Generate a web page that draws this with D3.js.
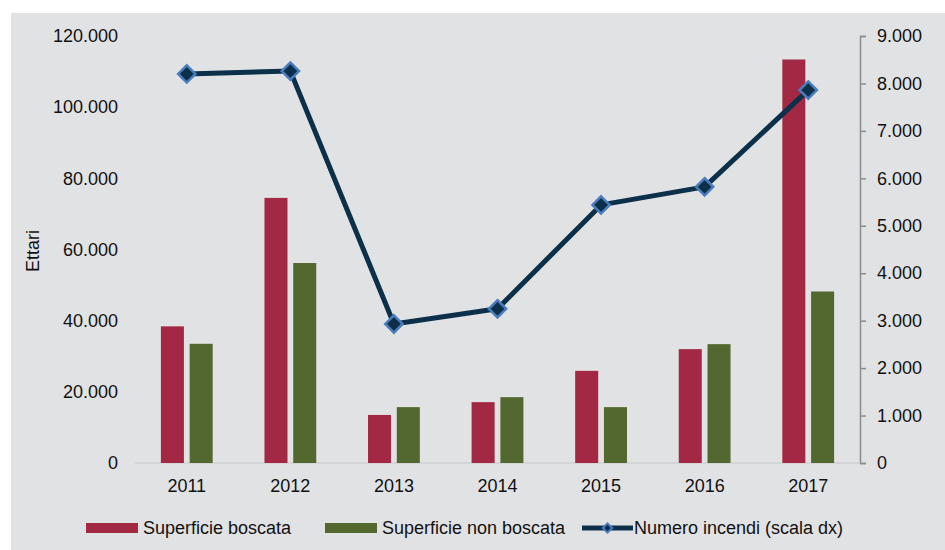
<!DOCTYPE html>
<html>
<head>
<meta charset="utf-8">
<script src="https://cdn.jsdelivr.net/npm/d3@7"></script>
<style>
  body { margin: 0; background: #fff; }
  svg { display: block; font-family: "Liberation Sans", Arial, sans-serif; }
</style>
</head>
<body>
<svg id="chart" width="945" height="550"></svg>
<script>
const years = ['2011', '2012', '2013', '2014', '2015', '2016', '2017'];
const boscata = [38400, 74500, 13500, 17100, 25900, 32000, 113400];
const nonBoscata = [33500, 56200, 15700, 18500, 15700, 33400, 48200];
const incendi = [8200, 8260, 2930, 3250, 5440, 5820, 7860];
const leftTicks = [0, 20000, 40000, 60000, 80000, 100000, 120000];
const rightTicks = [0, 1000, 2000, 3000, 4000, 5000, 6000, 7000, 8000, 9000];

const colors = { boscata: '#a32843', nonBoscata: '#52682e', line: '#0c3049', marker: '#4a7dbd' };

const svg = d3.select('#chart');
const margin = { top: 36, right: 85, bottom: 87, left: 135 };
const width = 945 - margin.left - margin.right;
const height = 550 - margin.top - margin.bottom;

// panel background
svg.append('rect')
  .attr('x', 11).attr('y', 13)
  .attr('width', 945 - 11).attr('height', 550 - 13)
  .attr('fill', '#e1e2e4');

const x0 = d3.scaleBand().domain(years).range([0, width]).paddingInner(0.5).paddingOuter(0.25);
const x1 = d3.scaleBand().domain(['b', 'n']).range([0, x0.bandwidth()]).paddingInner(0.2);
const yL = d3.scaleLinear().domain([0, 120000]).range([height, 0]);
const yR = d3.scaleLinear().domain([0, 9000]).range([height, 0]);

const fmt = d => d3.format(',')(d).replace(/,/g, '.');

const g = svg.append('g')
  .attr('transform', 'translate(' + margin.left + ',' + margin.top + ')');

// left axis (labels only)
g.append('g')
  .attr('class', 'axis axis--y')
  .call(d3.axisLeft(yL).tickValues(leftTicks).tickFormat(fmt).tickSize(0).tickPadding(17))
  .call(a => a.select('.domain').remove())
  .selectAll('text')
  .attr('font-size', 18).attr('font-family', 'Liberation Sans, Arial, sans-serif').attr('fill', '#111');

// right axis
g.append('g')
  .attr('class', 'axis axis--y2')
  .attr('transform', 'translate(' + width + ',0)')
  .call(d3.axisRight(yR).tickValues(rightTicks).tickFormat(fmt).tickSize(6).tickSizeOuter(6).tickPadding(11))
  .call(a => a.selectAll('line, .domain').attr('stroke', '#8c8c8c').attr('stroke-width', 1.5))
  .selectAll('text')
  .attr('font-size', 18).attr('font-family', 'Liberation Sans, Arial, sans-serif').attr('fill', '#111');

// x baseline and labels
g.append('line')
  .attr('x1', 0).attr('x2', width)
  .attr('y1', height).attr('y2', height)
  .attr('stroke', '#cfd0d2').attr('stroke-width', 1.5);

g.append('g')
  .attr('class', 'axis axis--x')
  .attr('transform', 'translate(0,' + height + ')')
  .call(d3.axisBottom(x0).tickSize(0).tickPadding(16))
  .call(a => a.select('.domain').remove())
  .selectAll('text')
  .attr('font-size', 18).attr('font-family', 'Liberation Sans, Arial, sans-serif').attr('fill', '#111');

// bars
const groups = g.selectAll('.year')
  .data(years)
  .enter().append('g')
  .attr('class', 'year')
  .attr('transform', d => 'translate(' + x0(d) + ',0)');

groups.append('rect')
  .attr('x', x1('b'))
  .attr('y', (d, i) => yL(boscata[i]))
  .attr('width', x1.bandwidth())
  .attr('height', (d, i) => height - yL(boscata[i]))
  .attr('fill', colors.boscata);

groups.append('rect')
  .attr('x', x1('n'))
  .attr('y', (d, i) => yL(nonBoscata[i]))
  .attr('width', x1.bandwidth())
  .attr('height', (d, i) => height - yL(nonBoscata[i]))
  .attr('fill', colors.nonBoscata);

// line
const cx = d => x0(d) + x0.bandwidth() / 2;
const lineData = years.map((d, i) => ({ year: d, v: incendi[i] }));
const line = d3.line().x(d => cx(d.year)).y(d => yR(d.v));

g.append('path')
  .datum(lineData)
  .attr('d', line)
  .attr('fill', 'none')
  .attr('stroke', colors.line)
  .attr('stroke-width', 5)
  .attr('stroke-linejoin', 'round');

const diamond = d3.symbol().type(d3.symbolDiamond2).size(190);
g.selectAll('.marker')
  .data(lineData)
  .enter().append('path')
  .attr('class', 'marker')
  .attr('d', diamond)
  .attr('transform', d => 'translate(' + cx(d.year) + ',' + yR(d.v) + ')')
  .attr('fill', colors.line)
  .attr('stroke', colors.marker)
  .attr('stroke-width', 2.5);

// y axis title
svg.append('text')
  .attr('transform', 'translate(39,251) rotate(-90)')
  .attr('text-anchor', 'middle')
  .attr('font-size', 18)
  .attr('fill', '#111')
  .text('Ettari');

// legend
const legend = svg.append('g').attr('class', 'legend');
const legY = 528;

legend.append('rect').attr('x', 86).attr('y', legY - 5).attr('width', 52).attr('height', 10).attr('fill', colors.boscata);
legend.append('text').attr('x', 143).attr('y', legY + 6).attr('font-size', 18).attr('fill', '#111').text('Superficie boscata');

legend.append('rect').attr('x', 325).attr('y', legY - 5).attr('width', 52).attr('height', 10).attr('fill', colors.nonBoscata);
legend.append('text').attr('x', 382).attr('y', legY + 6).attr('font-size', 18).attr('fill', '#111').text('Superficie non boscata');

legend.append('line').attr('x1', 582).attr('x2', 633).attr('y1', legY).attr('y2', legY)
  .attr('stroke', colors.line).attr('stroke-width', 5);
legend.append('path')
  .attr('d', d3.symbol().type(d3.symbolDiamond2).size(55))
  .attr('transform', 'translate(607.5,' + legY + ')')
  .attr('fill', colors.line).attr('stroke', colors.marker).attr('stroke-width', 2);
legend.append('text').attr('x', 634).attr('y', legY + 6).attr('font-size', 18).attr('fill', '#111').text('Numero incendi (scala dx)');
</script>
</body>
</html>
